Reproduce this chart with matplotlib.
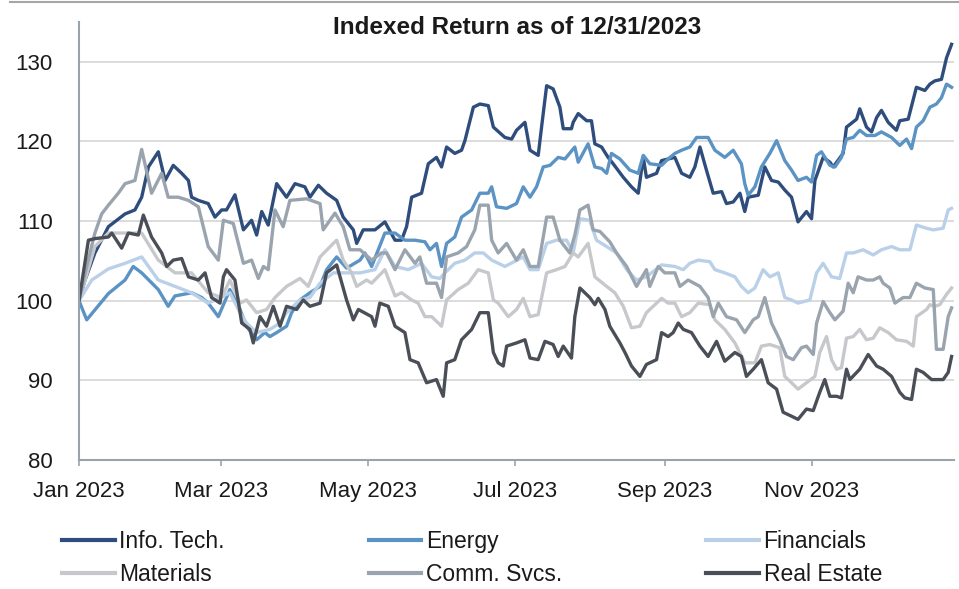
import matplotlib
matplotlib.use("Agg")
import matplotlib.pyplot as plt
import matplotlib.dates as mdates
from matplotlib.lines import Line2D
import pandas as pd

# (days after 1 Jan 2023, index level)
info_tech = [(0, 100), (2.5, 102.6), (6.6, 106.0), (12.2, 109.3), (19.1, 110.9), (23.2, 111.4), (26.0, 113.0),
             (28.8, 116.8), (32.9, 118.7), (35.7, 115.1), (39.1, 117.0), (42.6, 116.0), (45.4, 115.1), (46.7, 113.0),
             (49.5, 112.6), (53.6, 112.2), (56.4, 110.5), (59.2, 111.4), (61.2, 111.4), (64.7, 113.3), (68.2, 108.9),
             (71.6, 110.1), (73.7, 108.25), (75.8, 111.2), (78.5, 109.5), (82.0, 114.7), (86.1, 113.0), (89.6, 114.7),
             (93.7, 114.3), (95.8, 113.0), (99.3, 114.5), (102.7, 113.5), (106.9, 112.6), (109.6, 110.5), (113.8, 108.9),
             (115.2, 107.2), (117.9, 108.9), (122.8, 108.9), (126.9, 109.9), (131.1, 107.6), (133.8, 107.6), (135.9, 109.3),
             (138.0, 113.0), (142.1, 113.5), (144.9, 117.2), (148.3, 118.0), (150.4, 116.8), (152.5, 119.3), (155.9, 118.5),
             (158.7, 118.9), (160.1, 120.1), (163.6, 124.3), (166.3, 124.7), (169.8, 124.5), (171.9, 121.8), (176.7, 120.5),
             (179.5, 120.3), (181.5, 121.4), (185.0, 122.4), (187.1, 118.9), (190.5, 118.25), (191.9, 121.8), (194.0, 127.0),
             (196.7, 126.6), (199.5, 124.3), (200.9, 121.6), (204.3, 121.6), (205.0, 122.4), (207.1, 123.5), (210.6, 122.6),
             (212.6, 122.6), (214.0, 119.7), (216.8, 119.3), (219.5, 118.0), (221.6, 117.2), (225.8, 115.5), (229.2, 114.3),
             (232.0, 113.5), (234.1, 118.0), (235.4, 115.5), (239.6, 116.0), (241.7, 117.6), (247.2, 118.0), (250.0, 116.0),
             (253.4, 115.5), (255.5, 116.8), (257.6, 119.3), (260.3, 116.4), (263.1, 113.5), (266.6, 113.7), (268.6, 112.2),
             (271.4, 112.4), (274.2, 113.5), (276.2, 111.2), (277.6, 113.0), (281.8, 113.25), (284.5, 116.8), (287.3, 115.1),
             (290.1, 114.9), (292.8, 113.9), (295.6, 113.0), (298.3, 109.9), (301.8, 111.2), (303.9, 110.3), (305.3, 115.1),
             (308.7, 118.0), (311.5, 117.4), (312.9, 116.8), (317.0, 118.5), (318.4, 121.8), (322.6, 122.8), (323.9, 124.1),
             (326.7, 121.8), (328.8, 121.2), (330.9, 123.0), (332.9, 123.9), (335.7, 122.4), (339.1, 121.4), (340.5, 122.6),
             (344.0, 122.8), (347.4, 126.8), (350.9, 126.4), (353.0, 127.2), (355.0, 127.6), (357.8, 127.8), (359.9, 130.5),
             (362.0, 132.2)]

energy = [(0, 100), (3.2, 97.6), (12.2, 100.9), (19.1, 102.6), (22.5, 104.3), (26.0, 103.5), (32.9, 101.4), (37.0, 99.3),
          (39.8, 100.6), (46.7, 101.0), (50.9, 100.4), (53.6, 99.7), (57.8, 98.0), (62.6, 101.4), (66.8, 98.9), (69.5, 96.8),
          (73.7, 95.1), (77.1, 96.0), (79.2, 95.5), (82.0, 96.0), (86.1, 96.8), (88.2, 98.5), (91.7, 100.1), (95.8, 101.0),
          (100.0, 101.8), (102.7, 103.9), (106.9, 105.5), (111.0, 104.1), (116.6, 105.1), (118.6, 106.0), (121.4, 104.3),
          (126.9, 108.5), (131.1, 108.5), (135.2, 107.6), (139.4, 107.6), (143.5, 107.4), (145.6, 106.4), (148.3, 107.2),
          (150.4, 104.3), (152.5, 107.2), (155.9, 108.0), (158.7, 110.5), (162.9, 111.4), (166.3, 113.5), (169.8, 113.5),
          (171.2, 114.3), (173.2, 111.8), (177.4, 111.6), (181.5, 112.2), (184.3, 114.3), (187.1, 113.0), (189.8, 114.3),
          (192.6, 116.8), (195.4, 117.0), (198.8, 118.0), (201.6, 117.8), (205.7, 119.3), (207.1, 117.4), (211.2, 119.7),
          (214.0, 116.8), (216.8, 116.6), (218.9, 116.0), (220.9, 118.5), (224.4, 117.8), (228.5, 116.4), (232.0, 116.0),
          (234.1, 118.25), (236.8, 117.2), (241.7, 117.0), (244.4, 117.8), (247.2, 118.5), (250.0, 118.9), (253.4, 119.3),
          (256.2, 120.5), (261.0, 120.5), (263.8, 118.9), (267.9, 118.0), (271.4, 118.9), (274.8, 117.2), (276.2, 114.7),
          (277.6, 113.25), (280.4, 114.3), (283.1, 116.8), (286.6, 118.5), (289.4, 120.1), (292.8, 117.6), (295.6, 116.4),
          (298.3, 115.1), (301.8, 115.5), (303.9, 114.9), (306.0, 118.25), (308.0, 118.7), (311.5, 117.0), (313.6, 116.8),
          (316.3, 118.0), (318.4, 120.3), (321.2, 120.5), (323.9, 121.4), (326.7, 120.75), (330.2, 120.75), (332.9, 121.2),
          (337.1, 120.5), (340.5, 119.5), (343.3, 120.3), (345.4, 119.1), (347.4, 121.8), (350.2, 122.6), (353.0, 124.3),
          (355.7, 124.7), (357.8, 125.5), (359.9, 127.2), (362.0, 126.8)]

financials = [(0, 100), (5.3, 102.6), (12.2, 104.0), (19.1, 104.7), (26.0, 105.5), (32.9, 102.6), (39.8, 101.8),
              (46.7, 101.0), (53.6, 99.7), (62.6, 101.0), (66.8, 98.5), (69.5, 97.2), (73.7, 96.0), (79.2, 96.4),
              (83.4, 97.2), (86.1, 98.5), (91.7, 100.1), (95.8, 100.4), (100.0, 102.2), (105.5, 103.5), (111.0, 103.5),
              (116.6, 103.5), (122.8, 103.9), (126.9, 106.4), (131.1, 104.3), (136.6, 103.9), (142.1, 104.7), (146.3, 103.0),
              (149.7, 102.8), (151.8, 103.5), (155.9, 104.7), (160.1, 105.1), (164.2, 106.0), (167.7, 106.0), (171.2, 105.1),
              (176.7, 104.3), (184.3, 105.5), (187.1, 103.9), (190.5, 103.9), (194.0, 107.2), (198.1, 107.6), (202.3, 107.6),
              (205.0, 106.0), (207.8, 110.3), (211.9, 110.1), (214.7, 107.6), (218.9, 106.8), (223.0, 106.0), (227.2, 103.9),
              (231.3, 102.6), (235.4, 103.0), (241.7, 104.5), (247.2, 104.3), (250.7, 103.9), (253.4, 104.7), (256.9, 105.1),
              (261.7, 104.9), (263.8, 103.9), (267.9, 103.5), (272.1, 103.0), (274.8, 101.8), (277.6, 101.0), (280.4, 101.6),
              (283.8, 103.9), (286.6, 103.0), (290.1, 103.5), (292.8, 100.4), (295.6, 100.1), (298.3, 99.7), (303.2, 100.1),
              (306.0, 103.5), (308.7, 104.7), (312.2, 103.0), (315.6, 102.8), (318.4, 106.0), (321.2, 106.0), (325.3, 106.4),
              (329.5, 105.75), (332.9, 106.4), (337.1, 106.8), (340.5, 106.4), (344.7, 106.4), (347.4, 109.5), (351.6, 109.1),
              (354.4, 108.9), (358.5, 109.1), (360.6, 111.4), (362.0, 111.6)]

materials = [(0, 100), (6.6, 106.8), (12.2, 108.5), (19.1, 108.5), (26.0, 108.5), (32.9, 105.1), (39.8, 103.5),
             (46.7, 103.5), (53.6, 101.0), (59.2, 100.4), (62.6, 102.6), (66.8, 99.7), (69.5, 100.1), (73.7, 98.5),
             (77.8, 98.9), (81.3, 100.4), (86.1, 101.8), (91.7, 102.8), (95.1, 101.8), (100.0, 105.5), (105.5, 107.2),
             (106.9, 107.6), (109.6, 105.1), (113.1, 103.5), (115.2, 101.8), (119.3, 102.6), (121.4, 102.2), (126.9, 103.9),
             (131.1, 100.6), (133.8, 101.0), (138.0, 100.1), (140.7, 99.7), (143.5, 98.0), (146.3, 98.0), (150.4, 96.8),
             (152.5, 100.1), (157.3, 101.4), (161.5, 102.2), (165.6, 103.9), (169.8, 103.5), (171.9, 100.1), (173.9, 99.7),
             (178.1, 98.0), (181.5, 98.9), (184.3, 100.3), (187.1, 98.0), (190.5, 98.25), (194.0, 103.5), (198.1, 103.9),
             (201.6, 104.3), (205.0, 106.0), (207.1, 105.5), (211.2, 107.2), (214.0, 103.0), (218.9, 101.8), (222.3, 101.0),
             (225.8, 99.3), (229.2, 96.6), (232.7, 96.8), (235.4, 98.5), (241.7, 100.3), (244.4, 99.7), (247.2, 99.7),
             (250.0, 98.0), (253.4, 98.5), (256.9, 99.7), (261.7, 99.5), (263.8, 97.6), (267.9, 96.4), (272.1, 94.7),
             (276.2, 92.2), (280.4, 92.2), (283.1, 94.3), (286.6, 94.5), (290.7, 94.1), (292.8, 90.5), (295.6, 89.7),
             (298.3, 88.9), (301.8, 89.7), (305.3, 90.5), (307.3, 93.5), (310.1, 95.5), (312.2, 92.6), (314.3, 91.4),
             (316.3, 91.6), (318.4, 95.3), (321.2, 95.5), (323.9, 96.4), (326.7, 95.1), (329.5, 95.3), (332.2, 96.6),
             (335.7, 96.0), (339.1, 95.1), (343.3, 94.9), (346.1, 94.3), (347.4, 98.0), (351.6, 98.9), (353.0, 99.5),
             (355.0, 99.3), (357.1, 99.5), (359.9, 100.8), (362.0, 101.6)]

comm_svcs = [(0, 100), (3.2, 104.3), (6.6, 108.5), (9.4, 110.9), (12.2, 112.0), (16.3, 113.5), (19.1, 114.7),
             (23.2, 115.1), (26.0, 119.0), (30.1, 113.5), (34.3, 116.0), (37.0, 113.0), (41.2, 113.0), (45.4, 112.6),
             (49.5, 111.8), (50.9, 110.1), (53.6, 106.8), (57.8, 105.1), (59.9, 110.1), (64.0, 109.7), (68.2, 104.7),
             (71.6, 105.1), (74.4, 102.8), (76.5, 104.3), (78.5, 103.9), (81.3, 111.4), (84.7, 109.3), (87.5, 112.6),
             (94.4, 112.8), (100.0, 112.2), (101.3, 108.9), (106.2, 111.0), (109.6, 109.3), (112.4, 106.4), (116.6, 106.4),
             (121.4, 105.1), (125.5, 106.0), (127.6, 106.0), (131.1, 103.9), (135.2, 106.4), (139.4, 104.7), (141.4, 105.5),
             (144.2, 102.2), (148.3, 102.2), (150.4, 100.4), (152.5, 105.5), (157.3, 106.0), (160.8, 106.8), (164.2, 108.9),
             (166.3, 112.0), (169.8, 112.0), (171.2, 107.6), (173.9, 106.0), (177.4, 107.2), (181.5, 105.1), (184.3, 106.4),
             (187.1, 104.3), (190.5, 104.3), (194.0, 110.5), (196.7, 110.5), (199.5, 107.6), (203.6, 106.0), (205.7, 108.25),
             (207.8, 111.4), (211.2, 112.0), (213.3, 108.9), (216.1, 108.7), (220.2, 107.4), (223.0, 106.0), (227.2, 104.3),
             (231.3, 101.8), (235.4, 103.9), (236.8, 101.8), (240.3, 104.3), (243.0, 103.5), (247.2, 103.5), (249.3, 101.8),
             (252.7, 102.6), (257.6, 101.8), (261.0, 100.4), (263.1, 98.0), (265.2, 99.7), (268.6, 98.0), (272.8, 97.6),
             (276.2, 96.0), (279.7, 97.6), (281.8, 98.0), (284.5, 100.4), (287.3, 97.2), (290.7, 95.1), (293.5, 93.0),
             (296.3, 92.6), (299.7, 94.1), (301.8, 94.3), (304.6, 93.25), (306.0, 97.2), (308.7, 99.9), (311.5, 98.5),
             (313.6, 97.6), (317.0, 98.7), (319.1, 102.2), (321.2, 101.0), (323.2, 103.0), (326.7, 102.6), (329.5, 102.6),
             (332.2, 103.0), (333.6, 102.2), (336.4, 101.6), (338.5, 99.7), (341.9, 100.4), (344.7, 100.4), (347.4, 102.2),
             (350.9, 101.6), (354.4, 101.4), (355.7, 93.9), (358.5, 93.9), (360.6, 98.0), (362.0, 99.1)]

real_estate = [(0, 100), (3.9, 107.6), (6.6, 107.8), (12.2, 108.0), (13.6, 108.5), (17.7, 106.6), (20.5, 108.5),
               (24.6, 108.25), (26.7, 110.75), (30.1, 108.0), (34.3, 106.0), (36.4, 104.3), (39.1, 105.1), (42.6, 105.3),
               (45.4, 103.0), (49.5, 102.6), (52.3, 103.5), (55.0, 100.4), (58.5, 99.7), (59.9, 103.0), (61.2, 103.9),
               (64.7, 102.6), (67.5, 97.2), (70.9, 96.4), (72.3, 94.7), (75.1, 98.0), (77.8, 96.8), (80.6, 99.3),
               (83.4, 96.8), (86.1, 99.3), (90.3, 98.9), (93.0, 100.1), (95.8, 99.3), (100.0, 99.7), (102.7, 103.5),
               (106.9, 104.5), (111.0, 100.1), (113.8, 97.6), (115.9, 98.9), (121.4, 98.0), (122.8, 96.8), (124.8, 99.7),
               (128.3, 99.3), (131.1, 96.8), (135.2, 96.0), (137.3, 92.6), (140.7, 92.2), (144.2, 89.7), (148.3, 90.1),
               (151.1, 88.0), (152.5, 92.2), (155.9, 92.6), (158.7, 95.1), (162.9, 96.4), (166.3, 98.5), (169.8, 98.5),
               (171.9, 93.5), (173.9, 92.2), (176.0, 91.8), (177.4, 94.3), (181.5, 94.7), (185.0, 95.1), (187.1, 92.8),
               (190.5, 92.6), (193.3, 94.9), (196.7, 94.5), (198.8, 93.0), (200.9, 94.3), (204.3, 92.8), (205.7, 98.0),
               (207.8, 101.6), (211.9, 100.4), (214.0, 99.5), (215.4, 100.3), (218.2, 98.9), (220.2, 96.8), (224.4, 94.7),
               (226.5, 93.5), (229.2, 91.8), (232.7, 90.5), (235.4, 92.0), (239.6, 92.6), (241.7, 96.0), (244.4, 95.5),
               (246.5, 96.0), (248.6, 97.2), (250.7, 96.4), (254.1, 96.0), (257.6, 94.3), (261.0, 93.0), (264.5, 94.9),
               (267.9, 92.4), (272.1, 93.5), (274.8, 93.0), (276.9, 90.5), (279.7, 91.4), (283.1, 92.6), (285.9, 89.7),
               (289.4, 88.9), (292.1, 86.0), (295.6, 85.5), (298.3, 85.1), (301.8, 86.4), (304.6, 86.2), (307.3, 88.5),
               (309.4, 90.1), (311.5, 88.0), (314.3, 88.0), (316.3, 87.8), (318.4, 91.4), (319.8, 90.1), (323.9, 91.4),
               (327.4, 93.25), (330.9, 91.8), (333.6, 91.4), (337.1, 90.5), (340.5, 88.5), (342.6, 87.8), (345.4, 87.6),
               (347.4, 91.4), (350.2, 91.0), (353.7, 90.1), (358.5, 90.1), (360.6, 91.0), (362.0, 93.0)]

labels = ["Info. Tech.", "Energy", "Financials", "Materials", "Comm. Svcs.", "Real Estate"]
colors = ["#2f4d7c", "#5b93c4", "#bad0e8", "#c6c8cb", "#9aa4ae", "#4a4f57"]
series = [info_tech, energy, financials, materials, comm_svcs, real_estate]

start = pd.Timestamp("2023-01-01")

plt.rcParams['font.family'] = ['Liberation Sans', 'DejaVu Sans']
txt = "#1a1a1a"

fig = plt.figure(figsize=(9.59, 5.89), dpi=100)
ax = fig.add_axes([79 / 959, 1 - 460 / 589, (954 - 79) / 959, (460 - 22) / 589])

for data, lab, col in zip(series, labels, colors):
    days = [d for d, v in data]
    vals = [v for d, v in data]
    dates = start + pd.to_timedelta(days, unit="D")
    ax.plot(dates, vals, color=col, lw=2.4, label=lab)

ax.set_ylim(80, 135)
ax.set_xlim(start, start + pd.Timedelta(days=363))
ax.set_yticks([80, 90, 100, 110, 120, 130])
ax.xaxis.set_major_locator(mdates.MonthLocator(bymonth=[1, 3, 5, 7, 9, 11]))
ax.xaxis.set_major_formatter(mdates.DateFormatter("%b %Y"))
ax.grid(axis="y", color="#d9d9d9", lw=1.3)
ax.set_axisbelow(True)

for s in ["top", "right"]:
    ax.spines[s].set_visible(False)
for s in ["left", "bottom"]:
    ax.spines[s].set_color("#9aa3ad")
    ax.spines[s].set_linewidth(1.5)

ax.tick_params(axis="y", length=0, pad=19, labelsize=16, labelcolor=txt)
ax.tick_params(axis="x", length=4, width=1.2, color="#9aa3ad", pad=11, labelsize=16, labelcolor=txt)

fig.text(517 / 959, 1 - 27 / 589, "Indexed Return as of 12/31/2023",
         ha="center", va="center", fontsize=17.5, fontweight="bold", color=txt)

fig.add_artist(Line2D([10 / 959, 1], [1 - 1.5 / 589] * 2, color="#a6a6a6", lw=1.5,
                      transform=fig.transFigure))

# legend fills column by column, so reorder to read across rows like the original
handles = [Line2D([0], [0], color=c, lw=3) for c in colors]
order = [0, 3, 1, 4, 2, 5]
fig.legend([handles[i] for i in order], [labels[i] for i in order], loc="upper left",
           bbox_to_anchor=(62 / 959, 0, (882 - 62) / 959, 1 - 530 / 589),
           mode="expand", ncol=3, frameon=False, fontsize=16.5, handlelength=2.3, handletextpad=0.2,
           labelspacing=0.45, borderpad=0, borderaxespad=0, labelcolor=txt)

fig.savefig("out.png", dpi=100)
